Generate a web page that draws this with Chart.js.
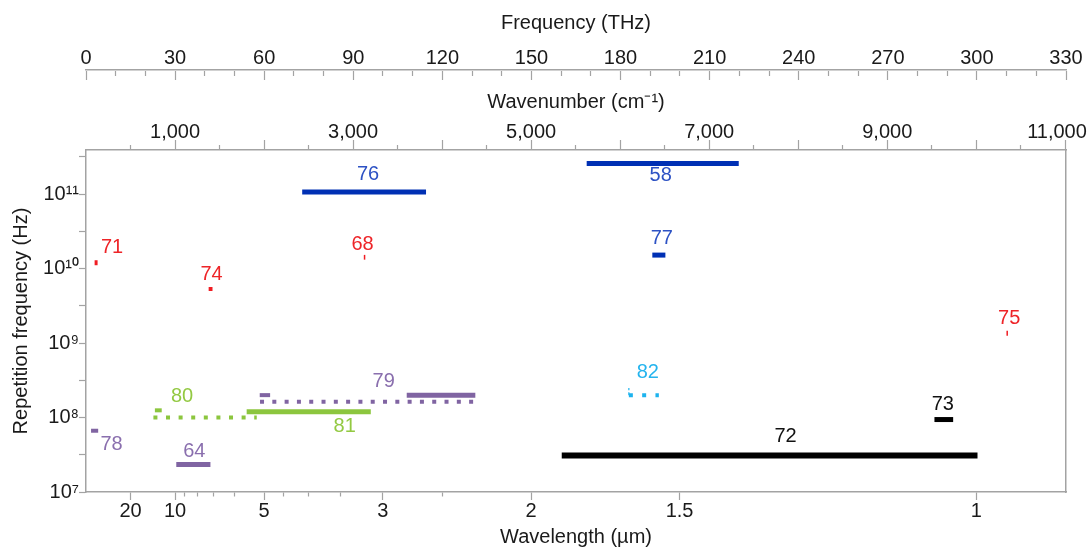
<!DOCTYPE html>
<html>
<head>
<meta charset="utf-8">
<script src="https://cdn.jsdelivr.net/npm/chart.js@4.4.1/dist/chart.umd.min.js"></script>
<style>
  html, body { margin: 0; padding: 0; background: #fff; }
</style>
</head>
<body>
<canvas id="combChart" width="1088" height="549"></canvas>
<script>
// c in um*THz, and THz per cm^-1
const C_UM_THZ = 299.792458;
const THZ_PER_CM = 0.0299792458;

// top axis, frequency (THz)
const freqLabelTicks = [0, 30, 60, 90, 120, 150, 180, 210, 240, 270, 300, 330];
const freqMarkTicks = [0, 10, 20, 30, 40, 50, 60, 70, 80, 90, 100, 110, 120, 130, 140, 150, 160,
  170, 180, 190, 200, 210, 220, 230, 240, 250, 260, 270, 280, 290, 300, 310, 320, 330];
// second top axis, wavenumber (cm^-1)
const wavenumberTicks = [500, 1000, 1500, 2000, 2500, 3000, 3500, 4000, 4500, 5000, 5500, 6000,
  6500, 7000, 7500, 8000, 8500, 9000, 9500, 10000, 10500, 11000];
const wavenumberLabels = ['1,000', '3,000', '5,000', '7,000', '9,000', '11,000'];
// bottom axis, wavelength (um)
const wavelengthTicks = [20, 10, 9, 8, 7, 6, 5, 4.5, 4, 3.5, 3, 2.5, 2, 1.5, 1];
const wavelengthLabels = ['20', '10', '', '', '', '', '5', '', '', '', '3', '', '2', '1.5', '1'];
// left axis, repetition frequency (Hz)
const rateTicks = [1e7, 3.162e7, 1e8, 3.162e8, 1e9, 3.162e9, 1e10, 3.162e10, 1e11, 3.162e11];
const rateLabels = ['10⁷', '', '10⁸', '', '10⁹', '', '10¹⁰', '', '10¹¹', ''];

// each drawn segment: reference number, frequency span (THz), repetition rate span (Hz)
const segRef    = ['76', '58', '77', '71', '74', '68', '75', '78', '64', '80', '80', '81', '79', '79', '79', '82', '82', '73', '72'];
const segFromTHz = [72.8, 168.6, 190.7, 2.9, 41.3, 93.8, 310.2, 1.7, 30.4, 22.7, 23.2, 54.1, 58.6, 58.5, 108.0, 182.8, 182.8, 285.7, 160.2];
const segToTHz   = [114.5, 219.8, 195.1, 3.9, 42.6, 93.8, 310.2, 4.1, 41.9, 57.5, 25.5, 95.9, 131.1, 62.0, 131.1, 192.9, 182.8, 292.0, 300.2];
const segFromHz  = [1.07e11, 2.59e11, 1.52e10, 1.2e10, 5.33e9, 1.32e10, 1.25e9, 6.65e7, 2.34e7, 1.0e8, 1.25e8, 1.2e8, 1.63e8, 2.0e8, 2.0e8, 2.0e8, 2.0e8, 9.4e7, 3.1e7];
const segToHz    = [1.07e11, 2.59e11, 1.52e10, 1.2e10, 5.33e9, 1.53e10, 1.46e9, 6.65e7, 2.34e7, 1.0e8, 1.25e8, 1.2e8, 1.63e8, 2.0e8, 2.0e8, 2.0e8, 2.5e8, 9.4e7, 3.1e7];

// styles
const segWidth = [5, 5, 5, 5, 4, 1.5, 1.5, 4, 5, 4, 4, 5, 4, 4, 5, 4, 1.2, 5, 6];
const segDash = [[], [], [], [], [], [], [], [], [], [4, 8.6], [], [], [4, 8.3], [], [], [4, 9.3], [3, 2], [], []];
const refGroup = { '76': 'blue', '58': 'blue', '77': 'blue', '71': 'red', '74': 'red', '68': 'red', '75': 'red',
  '78': 'purple', '64': 'purple', '79': 'purple', '80': 'green', '81': 'green', '82': 'cyan', '73': 'black', '72': 'black' };
const lineColor = { blue: '#0030b4', red: '#f01c22', purple: '#8064a2', green: '#8cc63e', cyan: '#1db3ee', black: '#000000' };
const textColor = { blue: '#2d52c4', red: '#ee2428', purple: '#8a6fae', green: '#93c942', cyan: '#25b4ee', black: '#111111' };
// label placement, pixels from the middle of the first segment of each reference
const tagNames = ['76', '58', '77', '71', '74', '68', '75', '78', '64', '80', '81', '79', '82', '73', '72'];
const tagDx = [4, -2, 3, 16, 1, -2, 2, 17, 1, -23, 36, 16, 4, -1, 16];
const tagDy = [-18, 12.5, -17, -15, -14, -13, -15, 14, -13, -21.5, 15, -20, -22.5, -15, -19];

const FONT = { family: '"Liberation Sans", Arial, sans-serif', size: 20 };
const AXIS = '#a3a3a3';
const INK = '#1a1a1a';

const datasets = segRef.map((ref, i) => ({
  label: ref,
  data: [{ x: segFromTHz[i], y: segFromHz[i] }, { x: segToTHz[i], y: segToHz[i] }],
  showLine: true,
  borderColor: lineColor[refGroup[ref]],
  borderWidth: segWidth[i],
  borderDash: segDash[i],
  borderCapStyle: 'butt',
  pointRadius: 0,
  fill: false
}));

const tagPlugin = {
  id: 'tags',
  afterDatasetsDraw(chart) {
    const { ctx, scales: { x, y } } = chart;
    ctx.save();
    ctx.font = FONT.size + 'px ' + FONT.family;
    ctx.textAlign = 'center';
    ctx.textBaseline = 'middle';
    tagNames.forEach((name, k) => {
      const i = segRef.indexOf(name);
      const px = (x.getPixelForValue(segFromTHz[i]) + x.getPixelForValue(segToTHz[i])) / 2;
      const py = (y.getPixelForValue(segFromHz[i]) + y.getPixelForValue(segToHz[i])) / 2;
      ctx.fillStyle = textColor[refGroup[name]];
      ctx.fillText(name, px + tagDx[k], py + tagDy[k]);
    });
    ctx.restore();
  }
};

const noPadX = (h) => (s) => { s.height = h; s.paddingLeft = 0; s.paddingRight = 0; };

new Chart(document.getElementById('combChart'), {
  type: 'scatter',
  data: { datasets },
  options: {
    responsive: false,
    animation: false,
    layout: { padding: { left: 0, right: 22, top: 0, bottom: 0 } },
    plugins: { legend: { display: false }, tooltip: { enabled: false } },
    scales: {
      x: {
        type: 'linear', position: 'bottom', min: 0, max: 330,
        afterBuildTicks: (s) => { s.ticks = wavelengthTicks.map(l => ({ value: C_UM_THZ / l })); },
        afterFit: noPadX(57),
        ticks: { autoSkip: false, maxRotation: 0, padding: -1, color: INK, font: FONT,
          callback: (v, i) => wavelengthLabels[i] },
        grid: { drawOnChartArea: false, tickLength: 8, tickColor: AXIS, tickWidth: 1.2,
          tickBorderDash: (c) => wavelengthLabels[c.index] ? [] : [4, 10] },
        border: { color: AXIS, width: 1.5 },
        title: { display: true, text: 'Wavelength (µm)', color: INK, font: FONT, padding: { top: 0, bottom: 0 } }
      },
      xWave: {
        type: 'linear', position: 'top', weight: 1, min: 0, max: 330 / THZ_PER_CM,
        afterBuildTicks: (s) => { s.ticks = wavenumberTicks.map(v => ({ value: v })); },
        afterFit: noPadX(70),
        ticks: { autoSkip: false, maxRotation: 0, padding: -4, color: INK, font: FONT,
          callback: (v) => {
            const t = v.toLocaleString('en-US');
            if (!wavenumberLabels.includes(t)) return '';
            // last label sits inside the canvas, as in the original figure
            return t === wavenumberLabels[wavenumberLabels.length - 1] ? t + '   ' : t;
          } },
        grid: { drawOnChartArea: false, tickLength: 10, tickColor: AXIS, tickWidth: 1.2,
          tickBorderDash: (c) => c.tick && c.tick.value % 1000 === 0 ? [] : [5, 5],
          tickBorderDashOffset: (c) => c.tick && c.tick.value % 1000 === 0 ? 0 : 5 },
        border: { color: AXIS, width: 1.5 },
        title: { display: true, text: 'Wavenumber (cm⁻¹)', color: INK, font: FONT, padding: { top: 10, bottom: 0 } }
      },
      xFreqMarks: {
        type: 'linear', position: 'top', weight: 2, min: 0, max: 330,
        afterBuildTicks: (s) => { s.ticks = freqMarkTicks.map(v => ({ value: v })); },
        afterFit: noPadX(10),
        ticks: { display: false },
        grid: { drawOnChartArea: false, tickLength: 9, tickColor: AXIS, tickWidth: 1.2,
          tickBorderDash: (c) => c.tick && c.tick.value % 30 === 0 ? [] : [5, 10] },
        border: { display: false }
      },
      xFreq: {
        type: 'linear', position: 'top', weight: 3, min: 0, max: 330,
        afterBuildTicks: (s) => { s.ticks = freqLabelTicks.map(v => ({ value: v })); },
        afterFit: noPadX(70),
        ticks: { autoSkip: false, maxRotation: 0, padding: 0, color: INK, font: FONT },
        grid: { display: false, drawTicks: false },
        border: { color: AXIS, width: 1.5 },
        title: { display: true, text: 'Frequency (THz)', color: INK, font: FONT, padding: { top: 11, bottom: 0 } }
      },
      y: {
        type: 'logarithmic', position: 'left', min: 1e7, max: 3.92e11,
        afterBuildTicks: (s) => { s.ticks = rateTicks.map(v => ({ value: v })); },
        afterFit: (s) => { s.width = 86; s.paddingTop = 0; s.paddingBottom = 0; },
        ticks: { autoSkip: false, padding: 0, color: INK, font: FONT, callback: (v, i) => rateLabels[i] },
        grid: { drawOnChartArea: false, tickLength: 7, tickColor: AXIS, tickWidth: 1.2 },
        border: { color: AXIS, width: 1.5 },
        title: { display: true, text: 'Repetition frequency (Hz)', color: INK, font: FONT, padding: { top: 9, bottom: 0 } }
      },
      yRight: {
        type: 'logarithmic', position: 'right', min: 1e7, max: 3.92e11,
        afterFit: (s) => { s.width = 0; s.paddingTop = 0; s.paddingBottom = 0; },
        ticks: { display: false },
        grid: { display: false, drawTicks: false },
        border: { color: AXIS, width: 1.5 }
      }
    }
  },
  plugins: [tagPlugin]
});
</script>
</body>
</html>
